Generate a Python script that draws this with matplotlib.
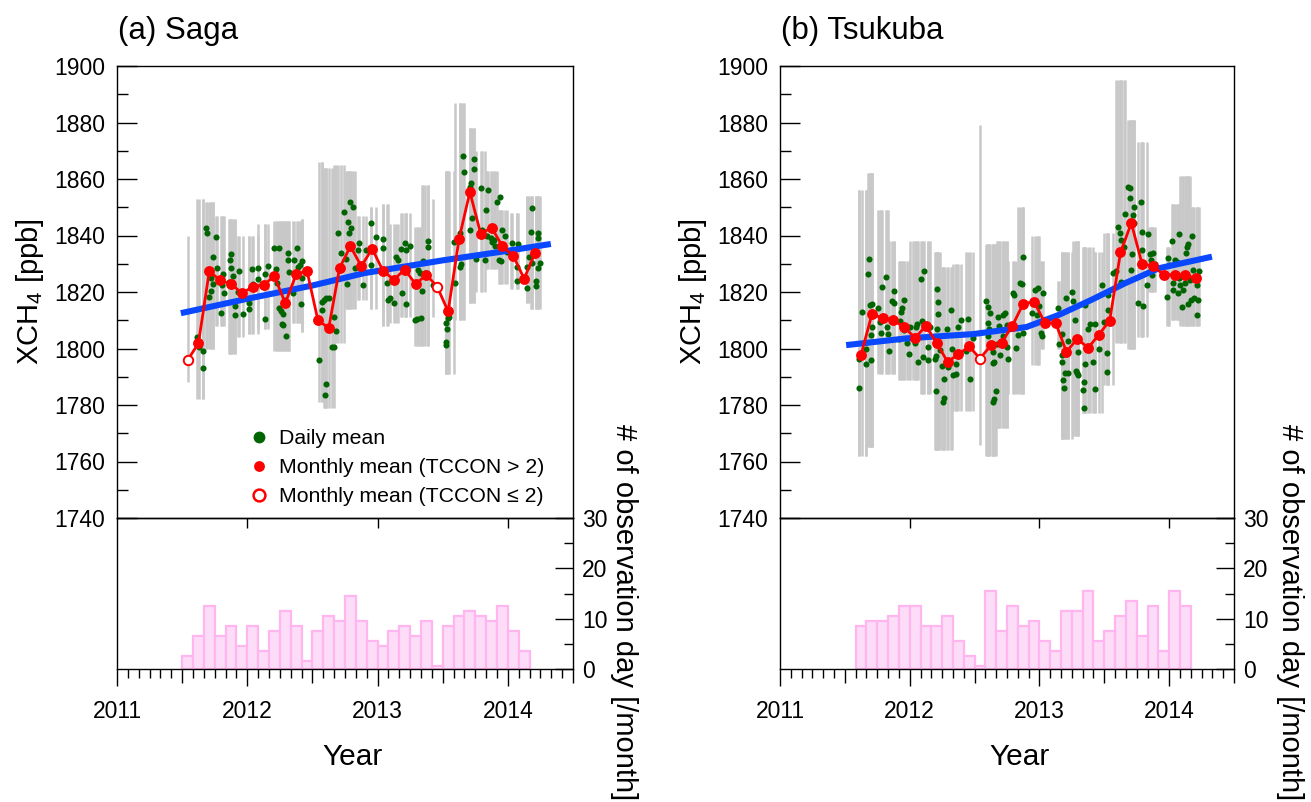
import numpy as np
import pandas as pd
import matplotlib
matplotlib.use('Agg')
import matplotlib.pyplot as plt
from matplotlib.ticker import FixedLocator, FuncFormatter, MultipleLocator
from matplotlib.lines import Line2D

plt.rcParams['font.family'] = ['Liberation Sans', 'DejaVu Sans']
plt.rcParams['mathtext.fontset'] = 'custom'
plt.rcParams['mathtext.rm'] = 'Liberation Sans'
plt.rcParams['mathtext.it'] = 'Liberation Sans:italic'
plt.rcParams['xtick.direction'] = 'out'
plt.rcParams['xtick.major.size'] = 12.5
plt.rcParams['xtick.minor.size'] = 6.5
plt.rcParams['xtick.major.pad'] = 10
plt.rcParams['xtick.major.width'] = 1.0
plt.rcParams['xtick.minor.width'] = 1.0
plt.rcParams['xtick.labelsize'] = 16.5
plt.rcParams['ytick.direction'] = 'in'
plt.rcParams['ytick.major.width'] = 1.0
plt.rcParams['ytick.minor.width'] = 1.0
plt.rcParams['ytick.labelsize'] = 16.5

# ---------------- Saga ----------------
saga_months = pd.period_range('2011-07', '2014-03', freq='M')
saga_monthly = [1795.9, 1801.8, 1827.4, 1824.1, 1822.9, 1819.6, 1821.8, 1822.6, 1825.5, 1816.1,
                1826.2, 1827.5, 1810.1, 1807.2, 1828.5, 1836.2, 1829.1, 1835.3, 1827.5, 1824.4,
                1827.9, 1822.8, 1826.1, 1821.8, 1813.1, 1838.7, 1855.4, 1840.6, 1842.8, 1836.2,
                1832.8, 1824.7, 1833.8]
saga_open = ['2011-07', '2013-06']
saga_gray_lo = [1788, 1782, 1800, 1808, 1798, 1804, 1805, 1807, 1799, 1799, 1809, 1806, 1781, 1779,
                1802, 1814, 1817, 1814, 1808, 1809, 1811, 1801, 1801, 1811, 1791, 1810, 1816, 1820,
                1828, 1823, 1821, 1816, 1814]
saga_gray_hi = [1840, 1853, 1852, 1847, 1846, 1840, 1840, 1844, 1845, 1845, 1845, 1846, 1866, 1864,
                1865, 1863, 1847, 1850, 1851, 1844, 1848, 1843, 1858, 1853, 1863, 1887, 1878, 1870,
                1863, 1849, 1848, 1854, 1854]
saga_trend_t = [2011.49, 2012.0, 2012.5, 2012.9, 2013.5, 2014.0, 2014.33]
saga_trend_v = [1812.5, 1817.6, 1822.3, 1826.7, 1831.2, 1834.6, 1837.0]
saga_hist_months = pd.period_range('2011-07', '2014-02', freq='M')
saga_days = [2.5, 6.5, 12.5, 6.5, 8.5, 4.5, 8.5, 3.5, 7.5, 11.5, 8.5, 1.5, 7.5, 10.5, 9.5, 14.5,
             9.5, 5.5, 4.5, 7.5, 8.5, 6.5, 9.5, 0.5, 8.5, 10.5, 11.5, 10.5, 9.5, 12.5, 7.5, 3.5]
saga_daily = [
    (2011.548, 1796.0), (2011.616, 1804.2), (2011.631, 1800.7), (2011.662, 1799.2), (2011.662, 1793.0),
    (2011.683, 1842.6), (2011.693, 1840.8), (2011.706, 1818.1), (2011.719, 1824.9), (2011.724, 1820.5),
    (2011.734, 1822.7), (2011.740, 1832.3), (2011.760, 1839.6), (2011.765, 1828.4), (2011.799, 1812.5),
    (2011.804, 1822.5), (2011.817, 1826.4), (2011.825, 1819.5), (2011.863, 1823.6), (2011.869, 1831.2),
    (2011.874, 1833.6), (2011.874, 1828.4), (2011.889, 1825.7), (2011.902, 1815.1), (2011.902, 1811.9),
    (2011.925, 1820.1), (2011.938, 1827.4), (2011.966, 1812.1), (2012.015, 1816.0), (2012.015, 1814.0),
    (2012.036, 1828.3), (2012.044, 1822.8), (2012.080, 1824.5), (2012.085, 1828.6), (2012.139, 1826.4),
    (2012.139, 1810.5), (2012.160, 1829.2), (2012.204, 1835.7), (2012.224, 1828.3), (2012.229, 1823.1),
    (2012.242, 1814.5), (2012.245, 1835.6), (2012.255, 1813.4), (2012.263, 1808.5), (2012.276, 1812.2),
    (2012.276, 1808.2), (2012.286, 1817.2), (2012.294, 1804.6), (2012.314, 1833.7), (2012.314, 1831.3),
    (2012.322, 1827.0), (2012.348, 1819.5), (2012.358, 1831.2), (2012.379, 1835.6), (2012.389, 1828.7),
    (2012.405, 1829.6), (2012.410, 1815.8), (2012.418, 1825.1), (2012.423, 1831.0), (2012.547, 1795.9),
    (2012.570, 1816.5), (2012.577, 1813.6), (2012.585, 1817.2), (2012.598, 1783.6), (2012.603, 1787.3),
    (2012.603, 1817.8), (2012.624, 1818.0), (2012.650, 1800.4), (2012.662, 1800.4), (2012.668, 1811.0),
    (2012.681, 1806.2), (2012.699, 1840.8), (2012.719, 1833.8), (2012.745, 1848.3), (2012.760, 1831.6),
    (2012.766, 1822.7), (2012.771, 1844.9), (2012.778, 1841.0), (2012.786, 1852.0), (2012.796, 1842.8),
    (2012.812, 1850.2), (2012.823, 1828.4), (2012.848, 1834.9), (2012.861, 1837.2), (2012.887, 1822.5),
    (2012.913, 1834.9), (2012.951, 1844.3), (2012.951, 1829.6), (2012.990, 1839.4), (2013.042, 1838.7),
    (2013.042, 1835.7), (2013.073, 1823.3), (2013.080, 1817.2), (2013.098, 1818.0), (2013.124, 1816.2),
    (2013.145, 1832.5), (2013.158, 1831.3), (2013.176, 1835.1), (2013.189, 1819.5), (2013.209, 1837.2),
    (2013.217, 1834.9), (2013.222, 1815.6), (2013.248, 1836.4), (2013.287, 1810.1), (2013.305, 1810.3),
    (2013.312, 1827.8), (2013.325, 1826.6), (2013.330, 1810.9), (2013.338, 1820.5), (2013.351, 1830.8),
    (2013.364, 1826.6), (2013.390, 1838.1), (2013.390, 1836.1), (2013.428, 1822.5), (2013.526, 1808.9),
    (2013.526, 1802.4), (2013.526, 1801.3), (2013.532, 1806.8), (2013.537, 1810.7), (2013.552, 1811.3),
    (2013.583, 1837.8), (2013.596, 1823.1), (2013.629, 1829.0), (2013.635, 1840.8), (2013.640, 1829.8),
    (2013.655, 1868.2), (2013.660, 1862.6), (2013.707, 1857.3), (2013.712, 1841.9), (2013.717, 1858.5),
    (2013.725, 1846.3), (2013.738, 1863.4), (2013.743, 1867.0), (2013.758, 1831.8), (2013.794, 1856.8),
    (2013.802, 1841.9), (2013.828, 1831.3), (2013.836, 1849.0), (2013.841, 1839.8), (2013.849, 1856.1),
    (2013.867, 1839.1), (2013.880, 1837.8), (2013.892, 1838.4), (2013.905, 1836.3), (2013.913, 1852.0),
    (2013.931, 1831.3), (2013.939, 1853.8), (2013.944, 1830.8), (2013.957, 1841.9), (2013.975, 1839.8),
    (2013.996, 1834.2), (2014.021, 1834.3), (2014.034, 1837.2), (2014.068, 1829.0), (2014.073, 1824.0),
    (2014.078, 1837.0), (2014.145, 1821.3), (2014.150, 1828.7), (2014.163, 1832.5), (2014.181, 1841.4),
    (2014.189, 1849.6), (2014.189, 1830.2), (2014.215, 1822.1), (2014.215, 1824.0), (2014.228, 1828.4),
    (2014.228, 1840.8), (2014.233, 1839.0), (2014.243, 1830.2),
]

# ---------------- Tsukuba ----------------
tsu_months = pd.period_range('2011-08', '2014-03', freq='M')
tsu_monthly = [1797.8, 1812.1, 1810.8, 1810.0, 1807.5, 1803.8, 1808.0, 1801.9, 1795.3, 1797.9,
               1800.8, 1796.4, 1801.1, 1802.1, 1808.1, 1815.8, 1816.6, 1809.1, 1809.1, 1798.8,
               1803.5, 1800.2, 1804.9, 1809.9, 1834.0, 1844.4, 1829.9, 1829.2, 1826.1, 1826.1,
               1826.0, 1824.8]
tsu_open = ['2012-07']
tsu_gray_lo = [1762, 1765, 1791, 1791, 1789, 1789, 1784, 1764, 1764, 1778, 1778, 1766, 1762, 1772,
               1784, 1784, 1794, 1800, 1800, 1768, 1769, 1777, 1777, 1787, 1802, 1800, 1804, 1820,
               1808, 1810, 1808, 1808]
tsu_gray_hi = [1856, 1862, 1849, 1838, 1831, 1838, 1838, 1834, 1829, 1830, 1834, 1879, 1837, 1838,
               1831, 1850, 1840, 1831, 1824, 1834, 1838, 1836, 1834, 1841, 1895, 1881, 1873, 1843,
               1836, 1851, 1861, 1850]
tsu_trend_t = [2011.51, 2011.98, 2012.49, 2012.90, 2013.15, 2013.40, 2013.66, 2013.92, 2014.17, 2014.33]
tsu_trend_v = [1801.2, 1803.6, 1805.1, 1807.6, 1811.9, 1817.2, 1823.1, 1828.4, 1830.9, 1832.5]
tsu_hist_months = pd.period_range('2011-08', '2014-02', freq='M')
tsu_days = [8.5, 9.5, 9.5, 10.5, 12.5, 12.5, 8.5, 8.5, 10.5, 5.5, 2.5, 0.5, 15.5, 7.5, 12.5, 8.5,
            9.5, 5.5, 3.5, 11.5, 11.5, 15.5, 5.5, 7.5, 10.5, 13.5, 6.5, 12.5, 3.5, 15.5, 12.5]
tsu_daily = [
    (2011.609, 1796.2), (2011.609, 1785.9), (2011.630, 1813.0), (2011.661, 1794.4), (2011.663, 1799.7),
    (2011.681, 1826.2), (2011.689, 1831.6), (2011.694, 1815.4), (2011.699, 1804.8), (2011.699, 1795.9),
    (2011.707, 1815.6), (2011.709, 1807.7), (2011.758, 1814.5), (2011.771, 1809.4), (2011.781, 1805.4),
    (2011.784, 1821.9), (2011.815, 1825.2), (2011.822, 1807.7), (2011.830, 1805.1), (2011.843, 1799.1),
    (2011.861, 1816.9), (2011.879, 1816.0), (2011.879, 1820.3), (2011.920, 1803.5), (2011.925, 1809.7),
    (2011.933, 1812.8), (2011.938, 1814.2), (2011.956, 1817.2), (2011.959, 1806.5), (2011.977, 1802.1),
    (2011.997, 1797.9), (2012.002, 1807.7), (2012.028, 1804.2), (2012.041, 1801.8), (2012.049, 1807.7),
    (2012.059, 1808.5), (2012.067, 1795.2), (2012.087, 1824.6), (2012.092, 1809.8), (2012.105, 1797.1),
    (2012.110, 1827.4), (2012.139, 1795.9), (2012.139, 1800.6), (2012.157, 1807.7), (2012.195, 1796.2),
    (2012.200, 1797.3), (2012.203, 1784.9), (2012.208, 1820.9), (2012.208, 1807.0), (2012.216, 1816.3),
    (2012.216, 1812.1), (2012.234, 1799.5), (2012.252, 1793.9), (2012.259, 1780.9), (2012.264, 1789.2),
    (2012.267, 1782.6), (2012.285, 1806.8), (2012.298, 1793.6), (2012.318, 1813.7), (2012.324, 1800.0),
    (2012.336, 1790.6), (2012.357, 1790.8), (2012.357, 1794.4), (2012.375, 1807.6), (2012.396, 1810.0),
    (2012.434, 1799.1), (2012.452, 1810.6), (2012.465, 1789.3), (2012.491, 1803.8), (2012.540, 1796.4),
    (2012.586, 1816.7), (2012.601, 1804.4), (2012.606, 1814.6), (2012.606, 1808.9), (2012.611, 1806.8),
    (2012.619, 1812.4), (2012.640, 1781.2), (2012.645, 1798.8), (2012.645, 1794.7), (2012.650, 1795.2),
    (2012.650, 1782.0), (2012.665, 1784.9), (2012.671, 1801.5), (2012.683, 1811.3), (2012.691, 1808.1),
    (2012.696, 1797.6), (2012.717, 1811.8), (2012.722, 1804.6), (2012.735, 1812.4), (2012.748, 1808.3),
    (2012.748, 1800.6), (2012.760, 1796.3), (2012.794, 1819.5), (2012.804, 1818.8), (2012.820, 1800.3),
    (2012.838, 1804.8), (2012.850, 1823.3), (2012.863, 1822.8), (2012.871, 1832.3), (2012.876, 1805.4),
    (2012.946, 1812.7), (2012.966, 1820.7), (2012.979, 1811.8), (2012.987, 1821.5), (2012.997, 1815.0),
    (2013.012, 1805.6), (2013.018, 1804.4), (2013.030, 1819.5), (2013.146, 1814.2), (2013.154, 1801.6),
    (2013.172, 1797.6), (2013.177, 1805.1), (2013.177, 1795.2), (2013.185, 1788.8), (2013.192, 1785.9),
    (2013.197, 1791.2), (2013.203, 1817.7), (2013.218, 1791.2), (2013.218, 1802.8), (2013.249, 1820.1),
    (2013.257, 1816.9), (2013.275, 1810.1), (2013.280, 1792.1), (2013.287, 1791.4), (2013.300, 1790.6),
    (2013.300, 1798.9), (2013.339, 1785.3), (2013.346, 1788.2), (2013.346, 1778.8), (2013.352, 1794.4),
    (2013.352, 1815.4), (2013.372, 1806.8), (2013.390, 1808.7), (2013.416, 1795.2), (2013.429, 1808.7),
    (2013.429, 1785.5), (2013.460, 1799.7), (2013.480, 1822.5), (2013.501, 1809.5), (2013.519, 1798.5),
    (2013.519, 1791.8), (2013.526, 1813.6), (2013.526, 1818.9), (2013.570, 1826.8), (2013.588, 1827.5),
    (2013.603, 1842.9), (2013.619, 1840.8), (2013.627, 1823.6), (2013.629, 1838.4), (2013.655, 1836.0),
    (2013.660, 1847.6), (2013.686, 1857.0), (2013.699, 1853.2), (2013.701, 1856.9), (2013.706, 1827.8),
    (2013.711, 1833.4), (2013.724, 1847.2), (2013.732, 1850.0), (2013.732, 1844.3), (2013.758, 1816.0),
    (2013.783, 1852.0), (2013.794, 1841.4), (2013.794, 1834.9), (2013.801, 1815.0), (2013.827, 1822.5),
    (2013.835, 1840.5), (2013.853, 1833.4), (2013.860, 1831.3), (2013.866, 1827.8), (2013.866, 1826.0),
    (2013.878, 1833.7), (2013.891, 1829.9), (2013.981, 1818.3), (2013.994, 1832.1), (2013.999, 1829.5),
    (2014.020, 1838.0), (2014.027, 1820.7), (2014.033, 1823.1), (2014.046, 1831.3), (2014.058, 1830.7),
    (2014.066, 1819.5), (2014.076, 1840.4), (2014.076, 1824.8), (2014.084, 1822.5), (2014.097, 1814.8),
    (2014.110, 1820.7), (2014.123, 1823.3), (2014.128, 1833.7), (2014.135, 1836.0), (2014.143, 1815.6),
    (2014.148, 1837.0), (2014.161, 1824.2), (2014.169, 1817.2), (2014.174, 1839.8), (2014.187, 1827.8),
    (2014.195, 1817.8), (2014.213, 1822.5), (2014.213, 1811.8), (2014.225, 1817.2), (2014.231, 1827.5),
]

titles = ['(a) Saga', '(b) Tsukuba']
ylabel_main = 'XCH$_4$ [ppb]'
ylabel_hist = '# of observation day [/month]'
xlabel = 'Year'
legend_labels = ['Daily mean', 'Monthly mean (TCCON > 2)', 'Monthly mean (TCCON \u2264 2)']

# ---------------- figure ----------------
W, H = 1311, 802
fig = plt.figure(figsize=(W / 100, H / 100), dpi=100)


def rect(x0, y0, x1, y1):
    return [x0 / W, 1 - y1 / H, (x1 - x0) / W, (y1 - y0) / H]


def month_start(periods):
    return np.asarray(periods.year, float) + (np.asarray(periods.month, float) - 1) / 12.0


GRAY = '#c8c8c8'
GREEN = '#006400'
BLUE = '#0a48ff'
RED = '#ff0000'
PINK_FACE = '#fddcf8'
PINK_EDGE = '#ffb6ef'

panels = [
    dict(x0=117, x1=573, months=saga_months, monthly=saga_monthly, open=saga_open,
         lo=saga_gray_lo, hi=saga_gray_hi, tt=saga_trend_t, tv=saga_trend_v,
         hm=saga_hist_months, hd=saga_days, daily=saga_daily, title=titles[0],
         ylab_x=30, rlab_x=624, year_x=353, legend=True),
    dict(x0=780, x1=1234, months=tsu_months, monthly=tsu_monthly, open=tsu_open,
         lo=tsu_gray_lo, hi=tsu_gray_hi, tt=tsu_trend_t, tv=tsu_trend_v,
         hm=tsu_hist_months, hd=tsu_days, daily=tsu_daily, title=titles[1],
         ylab_x=693, rlab_x=1290, year_x=1020, legend=False),
]

half_years = list(np.arange(2011, 2014.51, 0.5))
months_all = np.arange(2011 * 12, 2014 * 12 + 7) / 12.0
minor_months = [m for m in months_all if abs(m * 2 - round(m * 2)) > 1e-6]

for p in panels:
    ax = fig.add_axes(rect(p['x0'], 66, p['x1'], 518))
    axh = fig.add_axes(rect(p['x0'], 518, p['x1'], 669))
    axh.patch.set_visible(False)

    # gray columns per daily value (monthly envelope of individual data)
    mstart = month_start(p['months'])
    dt = np.array([d[0] for d in p['daily']])
    dv = np.array([d[1] for d in p['daily']])
    lo = np.array(p['lo'], float)
    hi = np.array(p['hi'], float)
    idx = np.clip(np.searchsorted(mstart, dt, side='right') - 1, 0, len(mstart) - 1)
    ax.vlines(dt, lo[idx], hi[idx], colors=GRAY, linewidth=1.8, zorder=1)

    ax.plot(dt, dv, 'o', ms=4.4, color=GREEN, mec='none', zorder=2)
    ax.plot(p['tt'], p['tv'], '-', color=BLUE, lw=4.4, solid_capstyle='butt', zorder=3)

    mid = mstart + 0.5 / 12.0
    mv = np.array(p['monthly'])
    is_open = np.array([str(m) in p['open'] for m in p['months']])
    ax.plot(mid, mv, '-', color=RED, lw=2.0, zorder=4)
    ax.plot(mid[~is_open], mv[~is_open], 'o', ms=6.8, color=RED, mec=RED, zorder=5)
    ax.plot(mid[is_open], mv[is_open], 'o', ms=6.8, mfc='white', mec=RED, mew=1.4, zorder=5)

    ax.set_xlim(2011, 2014.5)
    ax.set_ylim(1740, 1900)
    ax.yaxis.set_major_locator(MultipleLocator(20))
    ax.yaxis.set_minor_locator(MultipleLocator(10))
    ax.xaxis.set_major_locator(FixedLocator([2012, 2013, 2014]))
    ax.xaxis.set_minor_locator(FixedLocator([]))
    ax.tick_params(axis='y', which='major', length=14.4, pad=8.6, right=False)
    ax.tick_params(axis='y', which='minor', length=8, right=False)
    ax.tick_params(axis='x', which='major', length=7.2, labelbottom=False, top=False)
    for s in ax.spines.values():
        s.set_linewidth(1.0)

    # histogram of observation days
    hx = month_start(p['hm'])
    axh.bar(hx, p['hd'], width=1 / 12.0, align='edge', color=PINK_FACE, edgecolor=PINK_EDGE,
            linewidth=1.6, zorder=2)
    axh.set_xlim(2011, 2014.5)
    axh.set_ylim(0, 30)
    axh.xaxis.set_major_locator(FixedLocator(half_years))
    axh.xaxis.set_minor_locator(FixedLocator(minor_months))
    axh.xaxis.set_major_formatter(FuncFormatter(
        lambda v, pos: str(int(round(v))) if abs(v - round(v)) < 1e-6 else ''))
    axh.yaxis.tick_right()
    axh.yaxis.set_major_locator(FixedLocator([0, 10, 20, 30]))
    axh.yaxis.set_minor_locator(FixedLocator([5, 15, 25]))
    axh.tick_params(axis='y', which='major', length=13, pad=6.5, left=False, right=True)
    axh.tick_params(axis='y', which='minor', length=6.5, left=False, right=True)
    for s in axh.spines.values():
        s.set_linewidth(1.0)
    for t, v in zip(axh.xaxis.get_major_ticks(len(half_years)), half_years):
        if abs(v - round(v)) > 1e-6:
            t.tick1line.set_markersize(10)

    fig.text((p['x0'] + 1) / W, 1 - 39 / H, p['title'], fontsize=22.5, ha='left', va='baseline')
    fig.text(p['ylab_x'] / W, 1 - 292 / H, ylabel_main, fontsize=21, rotation=90,
             ha='center', va='center')
    fig.text(p['rlab_x'] / W, 1 - 612 / H, ylabel_hist, fontsize=21, rotation=270,
             ha='center', va='center')
    fig.text(p['year_x'] / W, 1 - 765 / H, xlabel, fontsize=21.5, ha='center', va='baseline')

    if p['legend']:
        handles = [
            Line2D([], [], ls='none', marker='o', ms=8.5, color=GREEN, mec='none'),
            Line2D([], [], ls='none', marker='o', ms=7.8, color=RED, mec='none'),
            Line2D([], [], ls='none', marker='o', ms=8.5, mfc='white', mec=RED, mew=1.8),
        ]
        ax.legend(handles, legend_labels, loc='upper left',
                  bbox_to_anchor=((248.5 - 117) / 456, (518 - 429) / 452),
                  frameon=False, fontsize=15.3, handlelength=1.0, handletextpad=0.45,
                  borderpad=0, borderaxespad=0, labelspacing=0.47)

fig.savefig('out.png', dpi=100)
